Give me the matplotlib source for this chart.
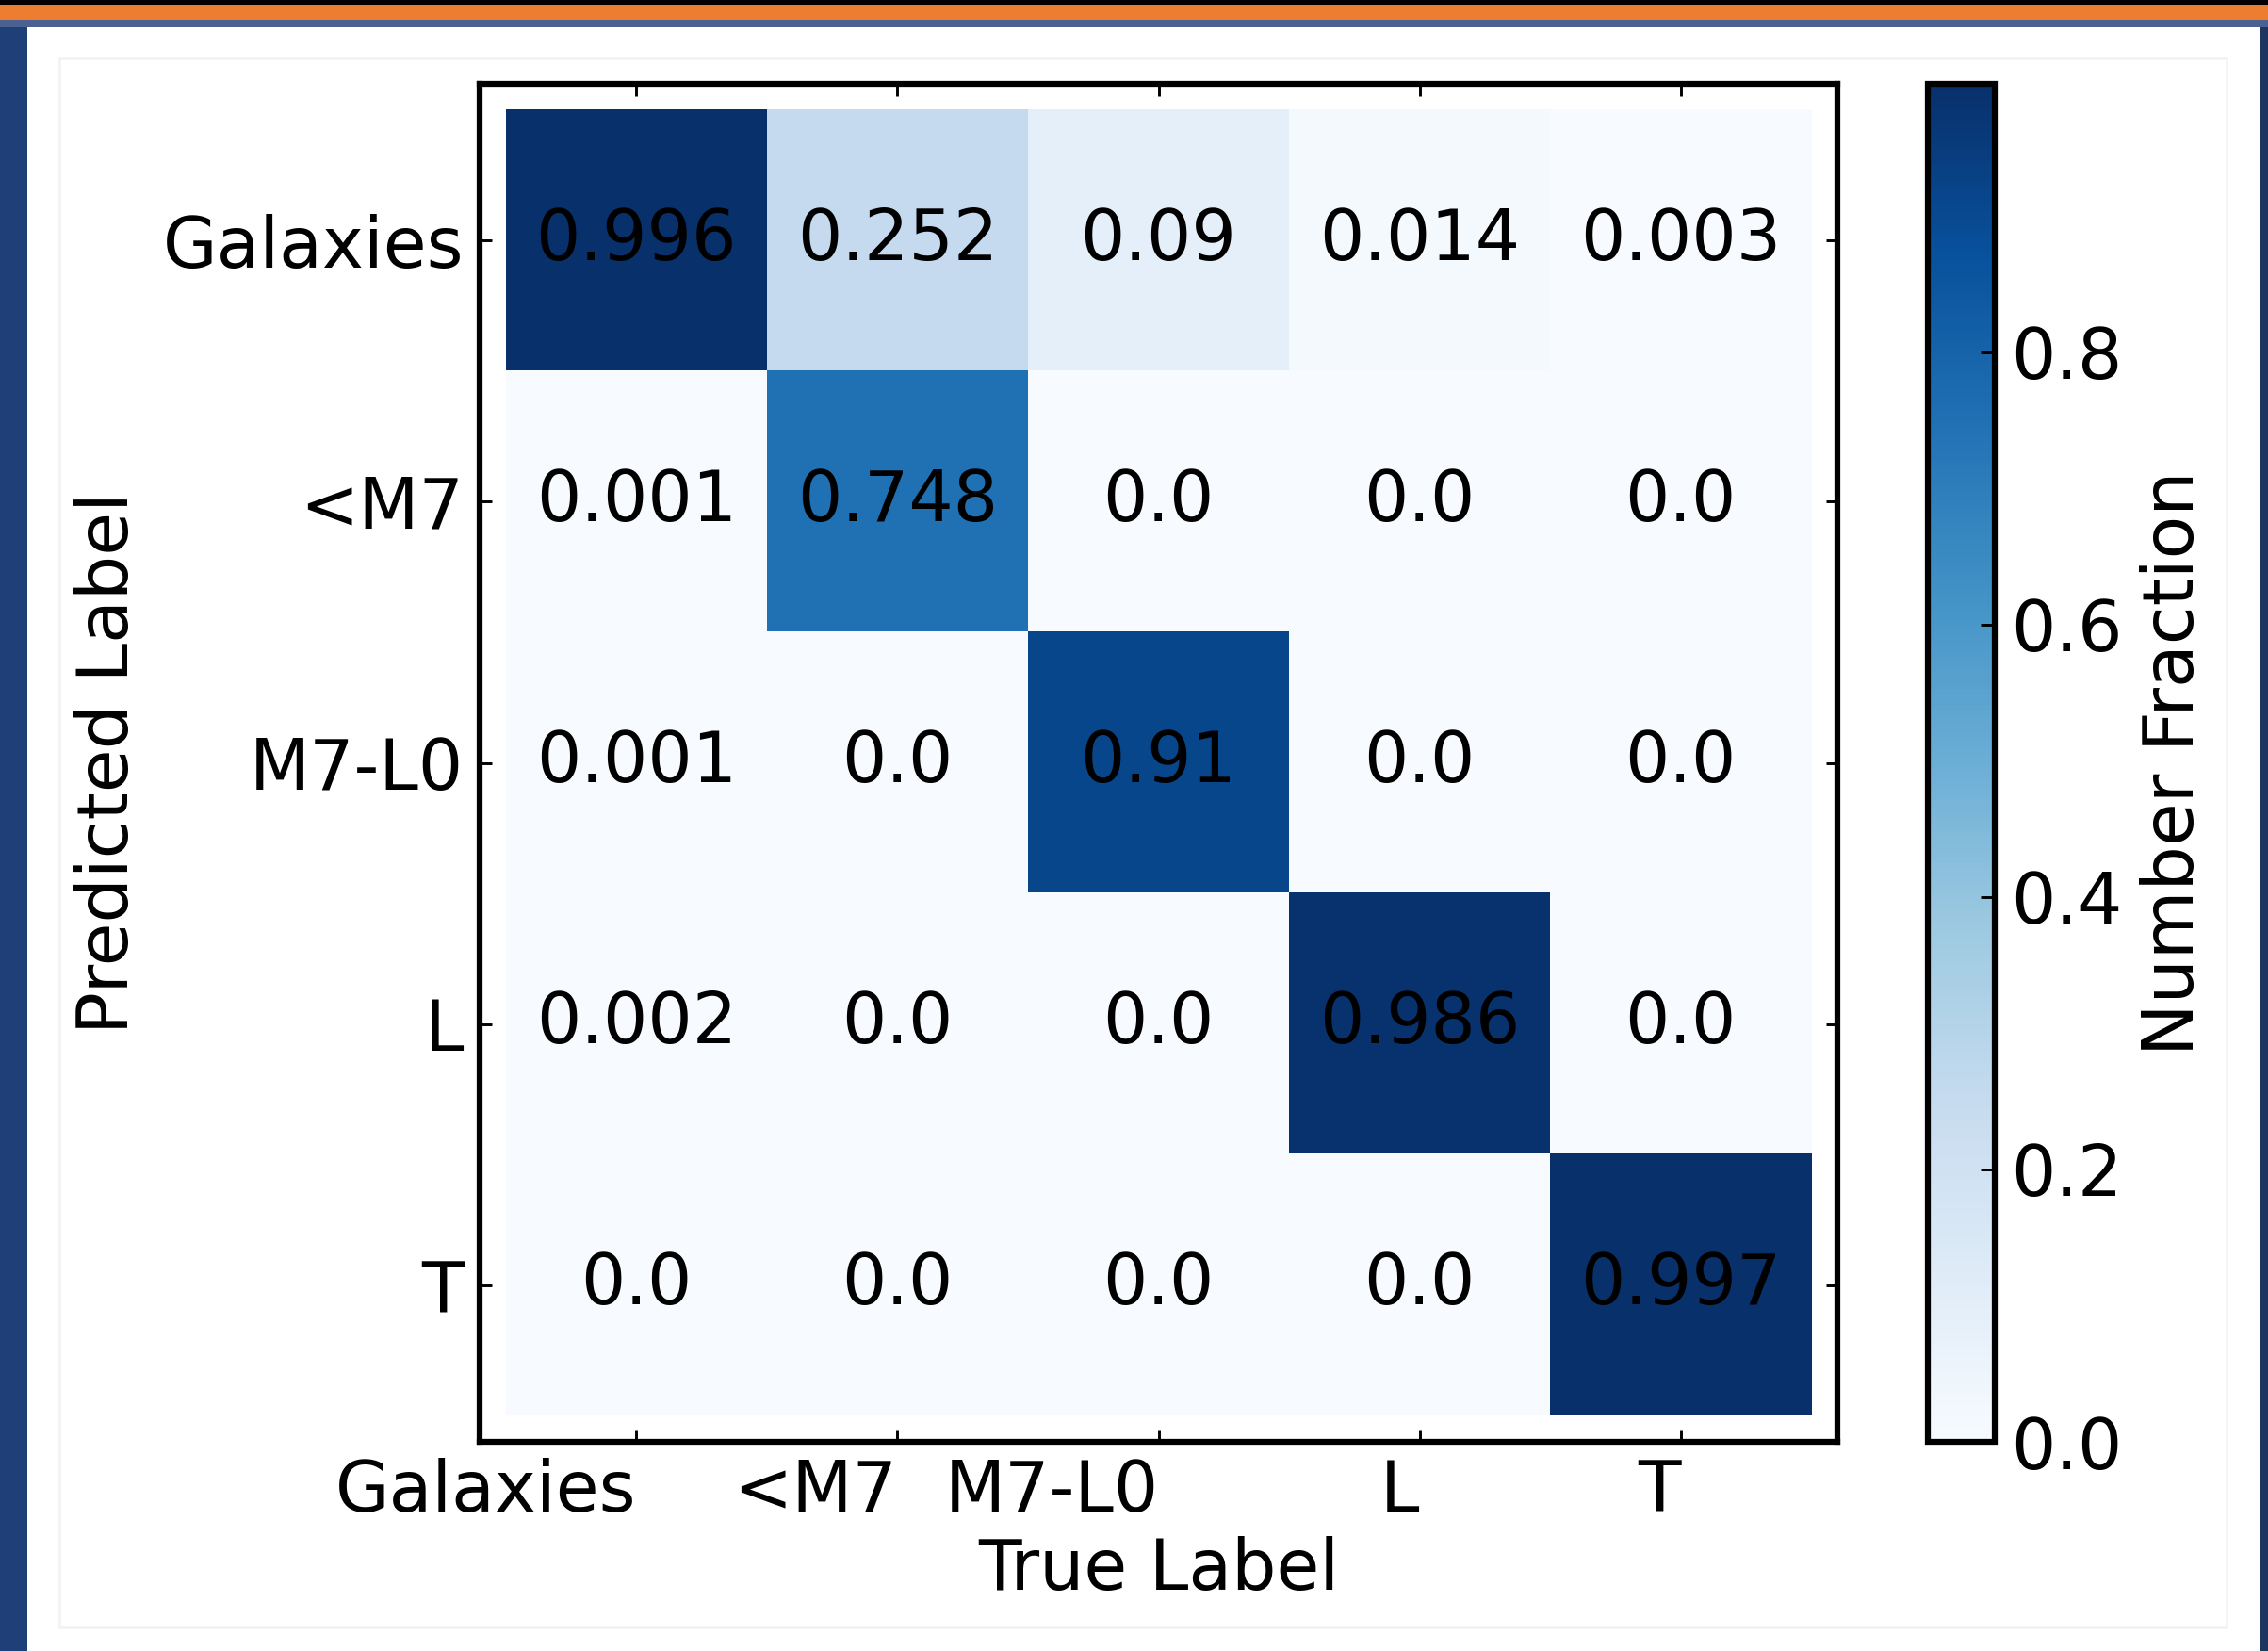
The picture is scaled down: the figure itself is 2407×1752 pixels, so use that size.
import matplotlib
matplotlib.use("Agg")
import matplotlib.pyplot as plt
from matplotlib.patches import Rectangle
import numpy as np

plt.rcParams['font.family'] = ['DejaVu Sans']

true_labels = ["Galaxies", "<M7", "M7-L0", "L", "T"]
pred_labels = ["Galaxies", "<M7", "M7-L0", "L", "T"]

row_galaxies = [0.996, 0.252, 0.09, 0.014, 0.003]
row_m7 = [0.001, 0.748, 0.0, 0.0, 0.0]
row_m7l0 = [0.001, 0.0, 0.91, 0.0, 0.0]
row_l = [0.002, 0.0, 0.0, 0.986, 0.0]
row_t = [0.0, 0.0, 0.0, 0.0, 0.997]

cbar_ticks = [0.0, 0.2, 0.4, 0.6, 0.8]

W, H = 2407, 1752
DPI = 300
FS = 17.9

fig = plt.figure(figsize=(W / DPI, H / DPI), dpi=DPI, facecolor='white')


def px_rect(x0, y0, x1, y1, **kw):
    """Rectangle given in pixel coords from top-left."""
    r = Rectangle((x0 / W, 1 - y1 / H), (x1 - x0) / W, (y1 - y0) / H,
                  transform=fig.transFigure, **kw)
    fig.add_artist(r)
    return r


# decorative slide frame
px_rect(0, 0, W, 4.5, facecolor='#000000', edgecolor='none', zorder=0)
px_rect(0, 4.5, W, 20.5, facecolor='#ED7D31', edgecolor='none', zorder=0)
px_rect(0, 20.5, W, 28.5, facecolor='#4A6192', edgecolor='none', zorder=0)
px_rect(0, 28.5, 29, H, facecolor='#1F3F78', edgecolor='none', zorder=0)
px_rect(2398, 28.5, W, H, facecolor='#1F3561', edgecolor='none', zorder=0)
px_rect(63, 62, 2363, 1727, facecolor='none', edgecolor='#F2F2F2', linewidth=0.6, zorder=0)

matrix = np.array([row_galaxies, row_m7, row_m7l0, row_l, row_t])

ax_l, ax_r, ax_t, ax_b = 509, 1950, 89, 1530
ax = fig.add_axes([ax_l / W, 1 - ax_b / H, (ax_r - ax_l) / W, (ax_b - ax_t) / H])
im = ax.imshow(matrix, cmap='Blues', vmin=0, vmax=matrix.max(), interpolation='nearest')
ax.set_xlim(-0.6, len(true_labels) - 0.4)
ax.set_ylim(len(pred_labels) - 0.4, -0.6)

for i in range(matrix.shape[0]):
    for j in range(matrix.shape[1]):
        ax.text(j, i, str(matrix[i, j]), ha='center', va='center',
                color='black', fontsize=FS)

ax.set_xticks(range(len(true_labels)))
ax.set_xticklabels(true_labels, ha='right')
ax.set_yticks(range(len(pred_labels)))
ax.set_yticklabels(pred_labels)
ax.tick_params(direction='in', length=3, width=0.7, top=True, right=True,
               labelsize=FS, pad=4)
for s in ax.spines.values():
    s.set_linewidth(1.5)
ax.set_xlabel("True Label", fontsize=FS, labelpad=2.5)
ax.set_ylabel("Predicted Label", fontsize=FS, labelpad=5)

cb_l, cb_r = 2046, 2117
cax = fig.add_axes([cb_l / W, 1 - ax_b / H, (cb_r - cb_l) / W, (ax_b - ax_t) / H])
cbar = fig.colorbar(im, cax=cax)
cbar.set_ticks(cbar_ticks)
cbar.ax.tick_params(direction='in', length=3.5, width=0.7, labelsize=FS, pad=4)
cbar.outline.set_linewidth(1.5)
cbar.set_label("Number Fraction", fontsize=FS, labelpad=4.5)

fig.savefig("out.png", dpi=DPI, facecolor='white')
